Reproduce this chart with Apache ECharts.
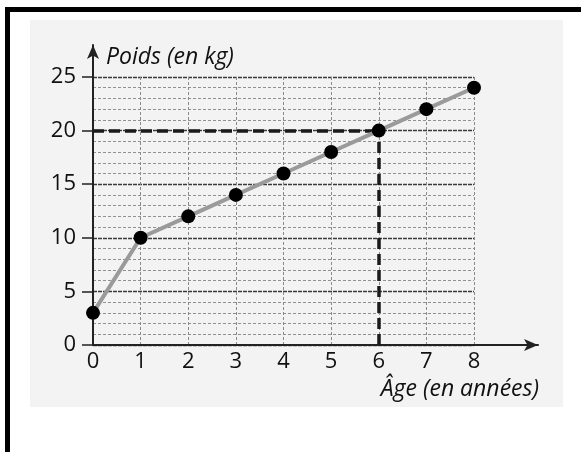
<!DOCTYPE html>
<html>
<head>
<meta charset="utf-8">
<script src="https://cdn.jsdelivr.net/npm/echarts@6/dist/echarts.min.js"></script>
<style>
  html, body { margin: 0; padding: 0; background: #fff; }
  #chart { width: 581px; height: 452px; }
</style>
</head>
<body>
<div id="chart"></div>
<script>
// données
const ages = [0, 1, 2, 3, 4, 5, 6, 7, 8]
const poids = [3, 10, 12, 14, 16, 18, 20, 22, 24]
const refAge = 6
const refPoids = 20

const chart = echarts.init(document.getElementById('chart'))
const font = '"Open Sans", "DejaVu Sans", sans-serif'

chart.setOption({
  animation: false,
  graphic: {
    z: -1,
    elements: [
      // fond gris clair
      { type: 'rect', shape: { x: 30, y: 20, width: 533, height: 387 }, style: { fill: '#f3f3f3' } },
      // cadre noir
      { type: 'rect', shape: { x: 5, y: 7, width: 576, height: 5 }, style: { fill: '#000' } },
      { type: 'rect', shape: { x: 5, y: 7, width: 5, height: 445 }, style: { fill: '#000' } },
      {
        type: 'text', x: 106, y: 57,
        style: { text: 'Poids (en kg)', font: 'italic 23px ' + font, fill: '#111', textVerticalAlign: 'middle' }
      },
      {
        type: 'text', x: 539, y: 389,
        style: { text: 'Âge (en années)', font: 'italic 23px ' + font, fill: '#111', textAlign: 'right', textVerticalAlign: 'middle' }
      }
    ]
  },
  grid: [
    { left: 93, right: 107, top: 77, bottom: 107 },
    { left: 93, right: 43, top: 45, bottom: 107 }
  ],
  xAxis: [
    {
      type: 'value', gridIndex: 0, min: 0, max: 8, interval: 1,
      axisLine: { show: false },
      axisTick: { show: false },
      axisLabel: { fontFamily: font, fontSize: 22, color: '#111', margin: 6 },
      splitLine: { show: true, lineStyle: { color: '#8a8a8a', width: 1, type: [3, 2] } }
    },
    {
      type: 'value', gridIndex: 1, min: 0, max: 1,
      axisLine: { show: true, symbol: ['none', 'arrow'], symbolSize: [9, 14], lineStyle: { color: '#222', width: 2 } },
      axisTick: { show: false }, axisLabel: { show: false }, splitLine: { show: false }
    }
  ],
  yAxis: [
    {
      type: 'value', gridIndex: 0, min: 0, max: 25, interval: 5,
      axisLine: { show: false },
      axisTick: { show: true, length: 11, lineStyle: { color: '#222', width: 1.5 } },
      axisLabel: { fontFamily: font, fontSize: 22, color: '#111', margin: 17 },
      splitLine: { show: true, lineStyle: { color: '#3a3a3a', width: 1.3, type: [4, 1] } },
      minorTick: { show: false, splitNumber: 5 },
      minorSplitLine: { show: true, lineStyle: { color: '#909090', width: 1, type: [3, 2] } }
    },
    {
      type: 'value', gridIndex: 1, min: 0, max: 1,
      axisLine: { show: true, symbol: ['none', 'arrow'], symbolSize: [9, 14], lineStyle: { color: '#222', width: 2 } },
      axisTick: { show: false }, axisLabel: { show: false }, splitLine: { show: false }
    }
  ],
  series: [
    {
      type: 'line',
      xAxisIndex: 0, yAxisIndex: 0,
      data: ages.map((a, i) => [a, poids[i]]),
      lineStyle: { color: '#9a9a9a', width: 4 },
      symbol: 'circle', symbolSize: 14,
      itemStyle: { color: '#000' },
      z: 5,
      markLine: {
        silent: true, symbol: 'none', label: { show: false },
        lineStyle: { color: '#1a1a1a', width: 3.5, type: [11, 5] },
        data: [
          [{ coord: [0, refPoids] }, { coord: [refAge, refPoids] }],
          [{ coord: [refAge, 0] }, { coord: [refAge, refPoids] }]
        ]
      }
    }
  ]
})
</script>
</body>
</html>
